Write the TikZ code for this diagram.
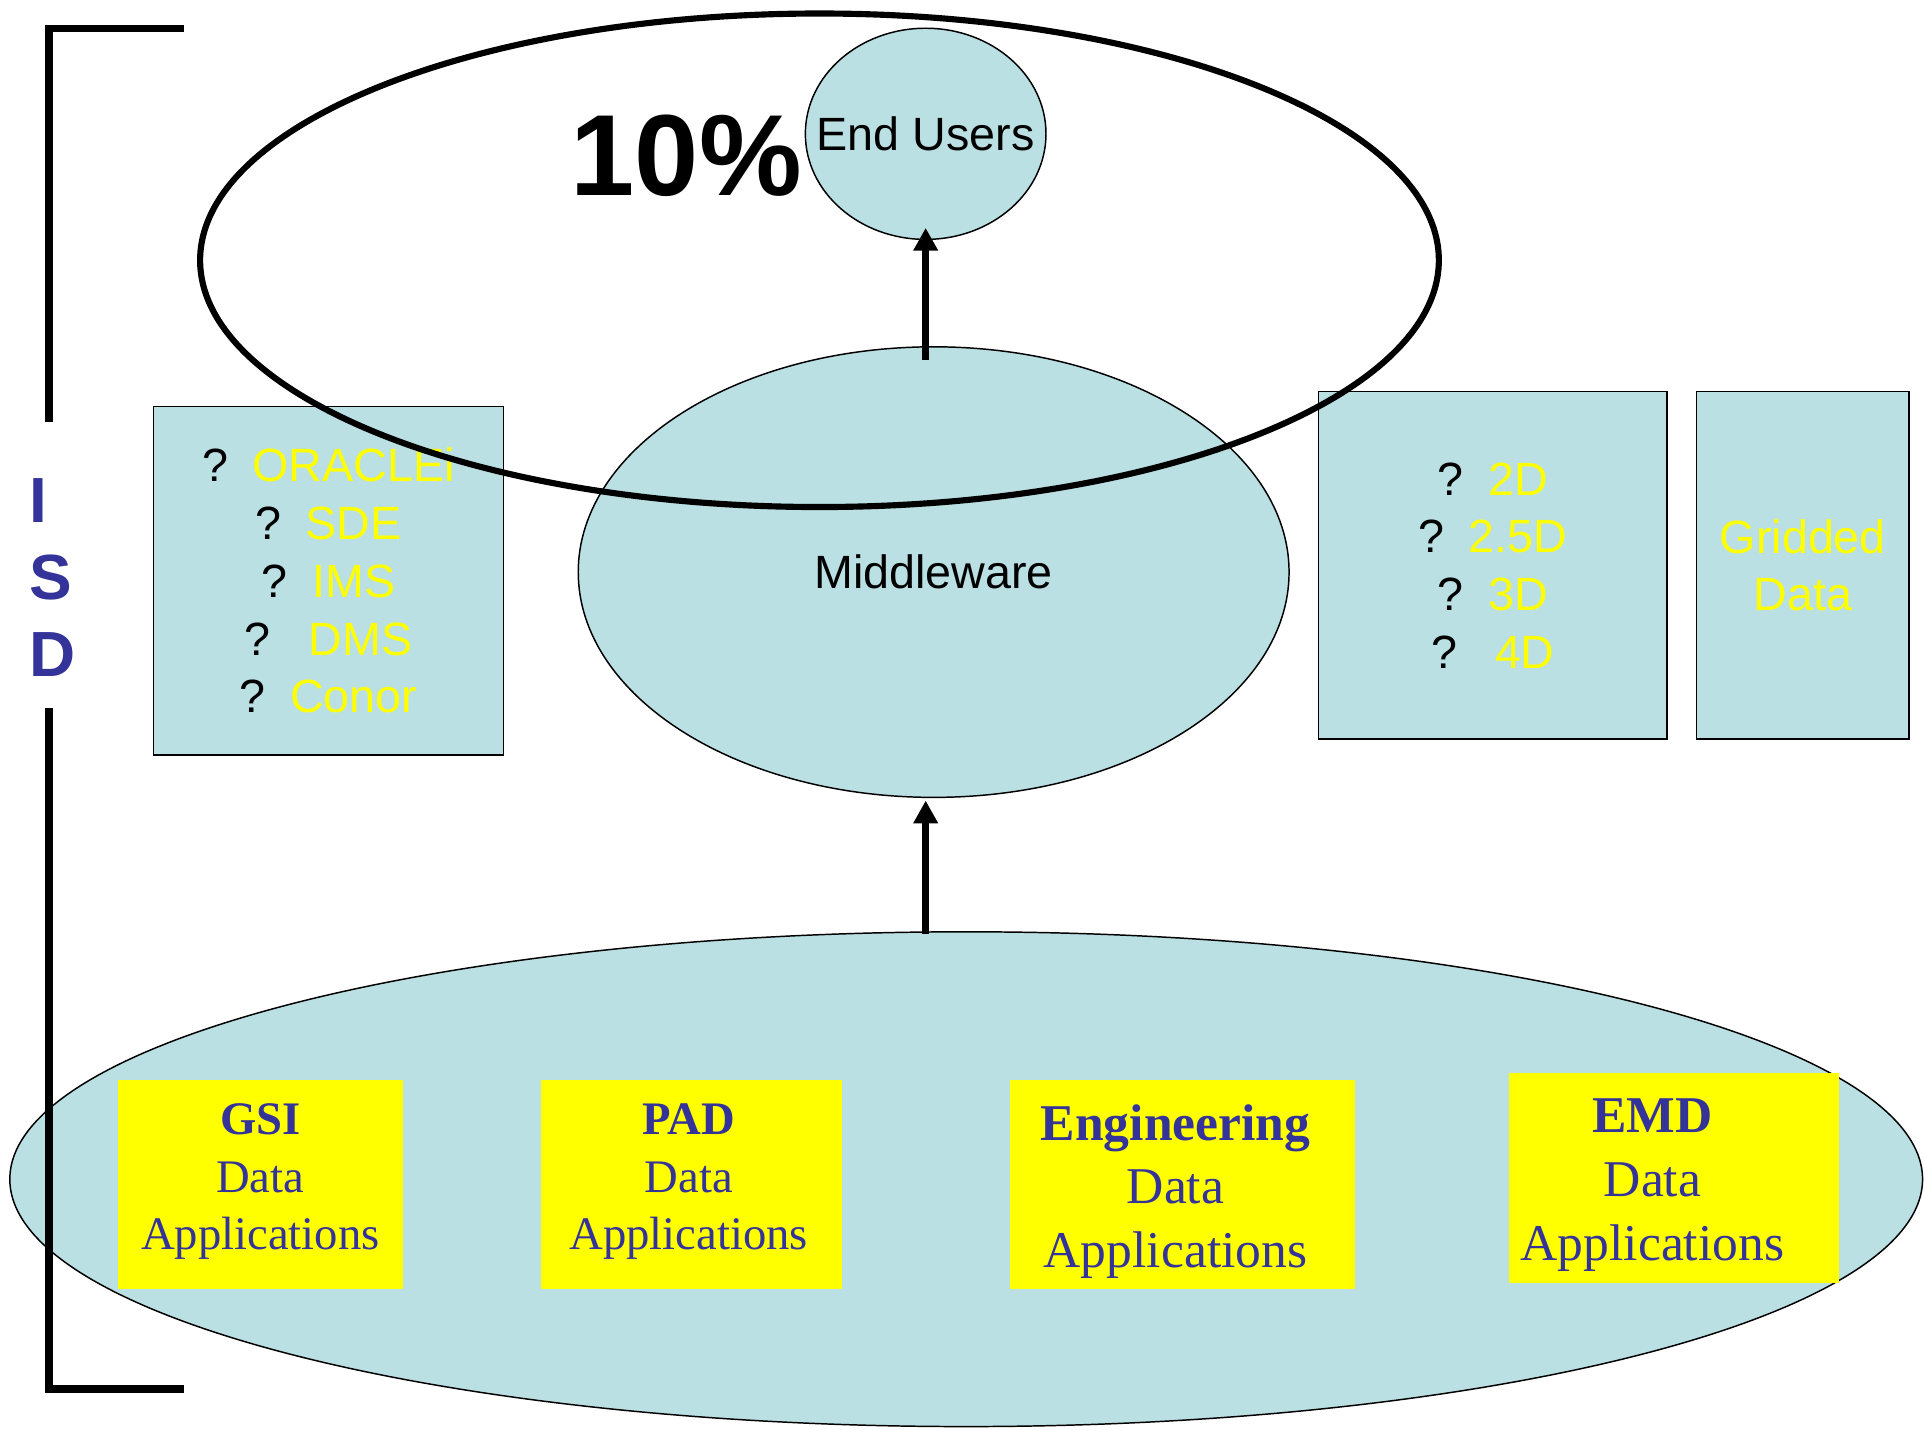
\documentclass[tikz,border=0pt]{standalone}
\usepackage{fontspec}
\setmainfont{Liberation Sans}
\newfontfamily\timesfont{Liberation Serif}
\usetikzlibrary{arrows.meta, shapes.geometric, calc}

\definecolor{paleblue}{RGB}{186,224,227}
\definecolor{isdblue}{RGB}{51,51,153}
\definecolor{appyellow}{RGB}{255,255,0}

\begin{document}
\begin{tikzpicture}[x=1pt, y=-1pt, >={Triangle[length=18.5pt, width=19pt]},
	blob node/.style={ellipse, draw, fill=paleblue, line width=1.2pt, inner sep=0pt},
	list node/.style={rectangle, draw, fill=paleblue, line width=1.2pt, inner sep=0pt,
		align=center, text=appyellow, font=\fontsize{38}{47}\selectfont},
	app node/.style={rectangle, fill=appyellow, inner sep=0pt, minimum height=170pt},
	app label/.style={align=center, text=isdblue, inner sep=0pt},
	flow line/.style={->, line width=6pt},
	isd bracket/.style={line width=6pt}]

	\useasboundingbox (0,0) rectangle (1568,1164);

	% Application layer at the bottom
	\node[blob node, minimum width=1558pt, minimum height=403pt] (apps) at (787,960.5) {};
	\node[app node, minimum width=232pt] (gsi) at (212,965) {};
	\node[app node, minimum width=245pt] (pad) at (563.5,965) {};
	\node[app node, minimum width=281pt] (eng) at (963.5,965) {};
	\node[app node, minimum width=269pt, minimum height=171pt] (emd) at (1363.5,959.5) {};
	\node[app label, font=\timesfont\fontsize{38}{47}\selectfont] (gsitext) at (212,962.5) {\textbf{GSI}\\Data\\Applications};
	\node[app label, font=\timesfont\fontsize{38}{47}\selectfont] (padtext) at (561,962.5) {\textbf{PAD}\\Data\\Applications};
	\node[app label, font=\timesfont\fontsize{42}{52}\selectfont] (engtext) at (957.5,970.5) {\textbf{Engineering}\\Data\\Applications};
	\node[app label, font=\timesfont\fontsize{42}{52}\selectfont] (emdtext) at (1346,965.5) {\textbf{EMD}\\Data\\Applications};

	% ISD bracket on the left
	\draw[isd bracket] (150,23.4) -- (40,23.4) -- (40,343.5);
	\draw[isd bracket] (40,577) -- (40,1131.5) -- (150,1131.5);
	\node[text=isdblue, font=\fontsize{52}{63}\selectfont\bfseries, align=left, inner sep=0pt, anchor=west] (isd) at (24,470.4) {I\\S\\D};

	% Middleware and the data boxes
	\node[blob node, minimum width=579pt, minimum height=367pt, font=\fontsize{38}{47}\selectfont] (middleware) at (760.5,466) {Middleware};
	\node[list node, minimum width=285pt, minimum height=284pt] (oracle) at (267.5,473) {%
		\textcolor{black}{?}\hspace{20pt}ORACLEi\\
		\textcolor{black}{?}\hspace{20pt}SDE\\
		\textcolor{black}{?}\hspace{20pt}IMS\\
		\textcolor{black}{?}\hspace{31pt}DMS\\
		\textcolor{black}{?}\hspace{20pt}Conor};
	\node[list node, minimum width=284pt, minimum height=283pt] (dims) at (1216,460.5) {%
		\textcolor{black}{?}\hspace{20pt}2D\\
		\textcolor{black}{?}\hspace{20pt}2.5D\\
		\textcolor{black}{?}\hspace{20pt}3D\\
		\textcolor{black}{?}\hspace{31pt}4D};
	\node[list node, minimum width=173pt, minimum height=283pt] (gridded) at (1468.5,460.5) {Gridded\\Data};

	% End users and the 10% scope
	\node[blob node, minimum width=196pt, minimum height=172pt] (users) at (754,109) {};
	\node[font=\fontsize{38}{47}\selectfont, inner sep=0pt] (userstext) at (users.center) {End Users};
	\node[font=\fontsize{94}{110}\selectfont\bfseries, inner sep=0pt] (pct) at (559,127) {10\%};
	\draw[line width=5pt] (667.5,212) ellipse [x radius=504.5pt, y radius=201pt];

	% Arrows
	\draw[flow line] ($(users.south |- middleware.north)+(0,11.5)$) -- ($(users.south)+(0,-10)$);
	\draw[flow line] ($(users.south |- apps.north)+(0,2.5)$) -- ($(users.south |- middleware.south)+(0,2)$);
\end{tikzpicture}
\end{document}
